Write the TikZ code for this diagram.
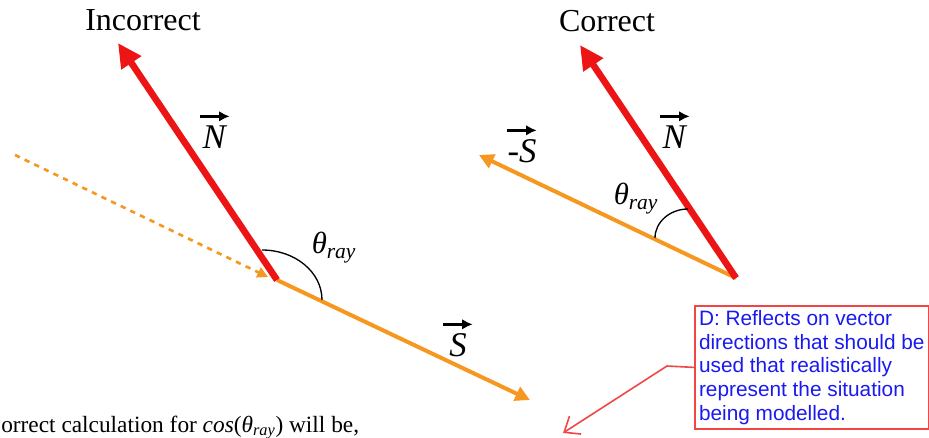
\documentclass[tikz,border=0pt]{standalone}
\usepackage{fontspec}
\setmainfont{Liberation Serif}
\newfontfamily\calloutfont{Liberation Sans}
\usetikzlibrary{arrows.meta, positioning}

\definecolor{normred}{RGB}{236,20,20}
\definecolor{rayorange}{RGB}{246,152,32}
\definecolor{noteblue}{RGB}{25,25,240}
\definecolor{notered}{RGB}{240,70,70}

% small vector arrow above a symbol
\newcommand{\vecsym}[1]{\begin{tabular}{@{}c@{}}\tikz\draw[-{Latex[length=8pt,width=8pt]}, line width=2pt] (0pt,0pt) -- (22pt,0pt);\\[-10pt]\textit{#1}\end{tabular}}
\newcommand{\thetaray}{\textit{θ}\textsubscript{\textit{ray}}}

\begin{document}
\begin{tikzpicture}[
    x=0.75pt, y=-0.75pt,
    title/.style={font=\fontsize{24}{28}\selectfont, inner sep=0pt},
    veclabel/.style={font=\fontsize{26}{30}\selectfont, inner sep=0pt},
    anglabel/.style={font=\fontsize{23}{27}\selectfont, inner sep=0pt},
    normal/.style={-{Triangle[length=18pt,width=17pt]}, line width=5pt, normred},
    ray/.style={-{Triangle[length=11pt,width=11pt]}, line width=3pt, rayorange},
    incoming/.style={-{Triangle[length=8pt,width=8pt]}, line width=2pt, rayorange, dash pattern=on 4pt off 4pt},
    anglemark/.style={line width=1pt, black},
    note/.style={draw=notered, line width=1.2pt, text=noteblue, align=left, inner xsep=2pt,
      font=\calloutfont\fontsize{15.6}{17.8}\selectfont, minimum width=175.5pt, minimum height=90.75pt, anchor=north west},
    notearrow/.style={-{Straight Barb[length=10pt,width=16pt]}, line width=1.2pt, notered},
  ]
    \clip (0,0) rectangle (929,437);
    \useasboundingbox (0,0) rectangle (929,437);

    % Incorrect
    \node[title] (inctitle) at (143,20) {Incorrect};
    \coordinate (vi) at (277,280);
    \coordinate (ni) at (118,43);
    \coordinate (si) at (530,400);
    \coordinate (di) at (15,155);
    \coordinate (dend) at (268,277);
    \draw[incoming] (di) -- (dend);
    \draw[ray] (vi) -- (si);
    \draw[normal] (vi) -- (ni);
    \draw[anglemark] (262,250) .. controls (295,250) and (322,272) .. (322,300);
    \node[veclabel] (nlabi) at (215,127) {\vecsym{N}};
    \node[veclabel] (slabi) at (458,335) {\vecsym{S}};
    \node[anglabel] (thi) at (334,248) {\thetaray};

    % Correct
    \node[title] (cortitle) at (607,21) {Correct};
    \coordinate (vc) at (736,278);
    \coordinate (nc) at (580,45);
    \coordinate (sc) at (479,155);
    \draw[ray] (vc) -- (sc);
    \draw[normal] (vc) -- (nc);
    \draw[anglemark] (655,238) .. controls (655,222) and (670,209) .. (688,209);
    \node[veclabel] (nlabc) at (675,127) {\vecsym{N}};
    \node[veclabel] (slabc) at (522,141) {\vecsym{-S}};
    \node[anglabel] (thc) at (636,199) {\thetaray};

    % Bottom line of text
    \node[anchor=base west, inner sep=0pt, font=\fontsize{17.5}{21}\selectfont] (calc) at (1,432)
      {orrect calculation for \textit{cos}(\textit{θ}\textsubscript{\textit{ray}}) will be,};

    % Callout
    \node[note] (callout) at (694,305) {D: Reflects on vector\\directions that should be\\used that realistically\\represent the situation\\being modelled.};
    \coordinate (bend) at (667,366);
    \coordinate (target) at (563,433);
    \draw[notearrow] (callout.west) -- (bend) -- (target);

  \end{tikzpicture}
\end{document}
